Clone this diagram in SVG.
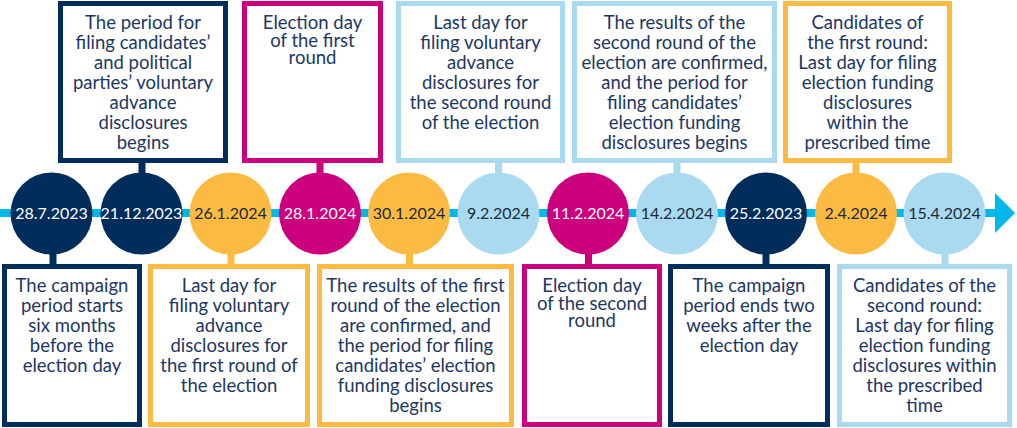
<svg xmlns="http://www.w3.org/2000/svg" width="1017" height="428" viewBox="0 0 1017 428">
<style>
.box{fill:#fff;stroke-width:5}
.stem{stroke-width:7}
.navy{stroke:#002d5b}
.mag{stroke:#cc007c}
.org{stroke:#fbbb43}
.lb{stroke:#a9daf0}
.t{font-family:Lato,"Open Sans",sans-serif;font-size:18.5px;fill:#1b3763;text-anchor:middle}
.d{font-family:Lato,"Open Sans",sans-serif;font-size:16px;text-anchor:middle}
.w{fill:#fff}
.k{fill:#1b2a3a}
</style>
<rect width="1017" height="428" fill="#fff"/>
<g id="connectors">
<rect x="0" y="209" width="997" height="8" fill="#00b7eb"/>
<polygon points="995,193 1015,213 995,233" fill="#00b7eb"/>
<line class="stem navy" x1="142" y1="160" x2="142" y2="175"/>
<line class="stem mag" x1="320" y1="160" x2="320" y2="175"/>
<line class="stem lb" x1="498.5" y1="160" x2="498.5" y2="175"/>
<line class="stem lb" x1="677" y1="160" x2="677" y2="175"/>
<line class="stem org" x1="856" y1="160" x2="856" y2="175"/>
<line class="stem navy" x1="53" y1="250" x2="53" y2="267"/>
<line class="stem org" x1="231" y1="250" x2="231" y2="267"/>
<line class="stem org" x1="409.5" y1="250" x2="409.5" y2="267"/>
<line class="stem mag" x1="588.5" y1="250" x2="588.5" y2="267"/>
<line class="stem navy" x1="766" y1="250" x2="766" y2="267"/>
<line class="stem lb" x1="945" y1="250" x2="945" y2="267"/>
</g>
<g id="d1"><circle cx="51.5" cy="213.5" r="41" fill="#002d5b"/><text class="d w" x="51.5" y="219">28.7.2023</text></g>
<g id="d2"><circle cx="141.5" cy="213.5" r="41" fill="#002d5b"/><text class="d w" x="141.5" y="219">21.12.2023</text></g>
<g id="d3"><circle cx="230.5" cy="213.5" r="41" fill="#fbbb43"/><text class="d k" x="230.5" y="219">26.1.2024</text></g>
<g id="d4"><circle cx="320" cy="213.5" r="41" fill="#cc007c"/><text class="d w" x="320" y="219">28.1.2024</text></g>
<g id="d5"><circle cx="409" cy="213.5" r="41" fill="#fbbb43"/><text class="d k" x="409" y="219">30.1.2024</text></g>
<g id="d6"><circle cx="498.5" cy="213.5" r="41" fill="#a9daf0"/><text class="d k" x="498.5" y="219">9.2.2024</text></g>
<g id="d7"><circle cx="588" cy="213.5" r="41" fill="#cc007c"/><text class="d w" x="588" y="219">11.2.2024</text></g>
<g id="d8"><circle cx="677" cy="213.5" r="41" fill="#a9daf0"/><text class="d k" x="677" y="219">14.2.2024</text></g>
<g id="d9"><circle cx="766" cy="213.5" r="41" fill="#002d5b"/><text class="d w" x="766" y="219">25.2.2023</text></g>
<g id="d10"><circle cx="856" cy="213.5" r="41" fill="#fbbb43"/><text class="d k" x="856" y="219">2.4.2024</text></g>
<g id="d11"><circle cx="944.5" cy="213.5" r="41" fill="#a9daf0"/><text class="d k" x="944.5" y="219">15.4.2024</text></g>

<g id="top1"><rect class="box navy" x="60.5" y="3.5" width="165" height="157"/>
<text class="t" x="143" y="29">The period for<tspan x="143" dy="20">filing candidates’</tspan><tspan x="143" dy="20">and political</tspan><tspan x="143" dy="20">parties’ voluntary</tspan><tspan x="143" dy="20">advance</tspan><tspan x="143" dy="20">disclosures</tspan><tspan x="143" dy="20">begins</tspan></text></g>
<g id="top2"><rect class="box mag" x="244.5" y="3.5" width="136" height="157"/>
<text class="t" x="312.5" y="29">Election day<tspan x="312.5" dy="17.5">of the first</tspan><tspan x="312.5" dy="17.5">round</tspan></text></g>
<g id="top3"><rect class="box lb" x="398.5" y="3.5" width="164" height="157"/>
<text class="t" x="480.5" y="29">Last day for<tspan x="480.5" dy="20">filing voluntary</tspan><tspan x="480.5" dy="20">advance</tspan><tspan x="480.5" dy="20">disclosures for</tspan><tspan x="480.5" dy="20">the second round</tspan><tspan x="480.5" dy="20">of the election</tspan></text></g>
<g id="top4"><rect class="box lb" x="574.5" y="3.5" width="200" height="157"/>
<text class="t" x="674.5" y="29">The results of the<tspan x="674.5" dy="20">second round of the</tspan><tspan x="674.5" dy="20">election are confirmed,</tspan><tspan x="674.5" dy="20">and the period for</tspan><tspan x="674.5" dy="20">filing candidates’</tspan><tspan x="674.5" dy="20">election funding</tspan><tspan x="674.5" dy="20">disclosures begins</tspan></text></g>
<g id="top5"><rect class="box org" x="785.5" y="3.5" width="164" height="157"/>
<text class="t" x="867.5" y="29">Candidates of<tspan x="867.5" dy="20">the first round:</tspan><tspan x="867.5" dy="20">Last day for filing</tspan><tspan x="867.5" dy="20">election funding</tspan><tspan x="867.5" dy="20">disclosures</tspan><tspan x="867.5" dy="20">within the</tspan><tspan x="867.5" dy="20">prescribed time</tspan></text></g>

<g id="bot1"><rect class="box navy" x="4.5" y="266.5" width="135" height="158"/>
<text class="t" x="72" y="292">The campaign<tspan x="72" dy="20">period starts</tspan><tspan x="72" dy="20">six months</tspan><tspan x="72" dy="20">before the</tspan><tspan x="72" dy="20">election day</tspan></text></g>
<g id="bot2"><rect class="box org" x="150.5" y="266.5" width="157" height="158"/>
<text class="t" x="229" y="292">Last day for<tspan x="229" dy="20">filing voluntary</tspan><tspan x="229" dy="20">advance</tspan><tspan x="229" dy="20">disclosures for</tspan><tspan x="229" dy="20">the first round of</tspan><tspan x="229" dy="20">the election</tspan></text></g>
<g id="bot3"><rect class="box org" x="319.5" y="266.5" width="192" height="158"/>
<text class="t" x="415.5" y="292">The results of the first<tspan x="415.5" dy="20">round of the election</tspan><tspan x="415.5" dy="20">are confirmed, and</tspan><tspan x="415.5" dy="20">the period for filing</tspan><tspan x="415.5" dy="20">candidates’ election</tspan><tspan x="415.5" dy="20">funding disclosures</tspan><tspan x="415.5" dy="20">begins</tspan></text></g>
<g id="bot4"><rect class="box mag" x="524.5" y="266.5" width="135" height="158"/>
<text class="t" x="592" y="292">Election day<tspan x="592" dy="17.5">of the second</tspan><tspan x="592" dy="17.5">round</tspan></text></g>
<g id="bot5"><rect class="box navy" x="670.5" y="266.5" width="157" height="158"/>
<text class="t" x="749" y="292">The campaign<tspan x="749" dy="20">period ends two</tspan><tspan x="749" dy="20">weeks after the</tspan><tspan x="749" dy="20">election day</tspan></text></g>
<g id="bot6"><rect class="box lb" x="839.5" y="266.5" width="170" height="158"/>
<text class="t" x="924.5" y="292">Candidates of the<tspan x="924.5" dy="20">second round:</tspan><tspan x="924.5" dy="20">Last day for filing</tspan><tspan x="924.5" dy="20">election funding</tspan><tspan x="924.5" dy="20">disclosures within</tspan><tspan x="924.5" dy="20">the prescribed</tspan><tspan x="924.5" dy="20">time</tspan></text></g>
</svg>
